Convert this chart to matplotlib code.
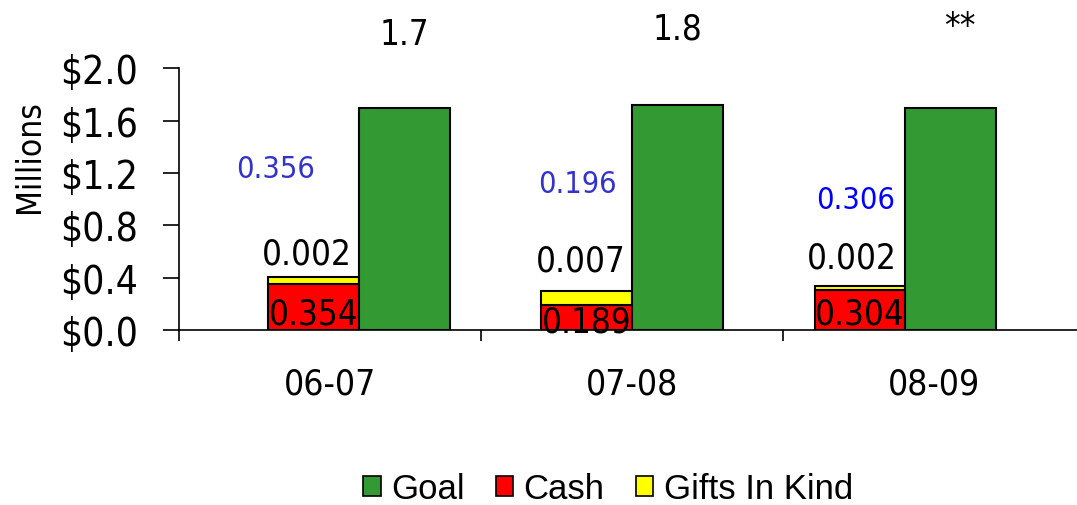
import numpy as np
import matplotlib
matplotlib.use("Agg")
import matplotlib.pyplot as plt
from matplotlib.patches import Patch
from matplotlib import font_manager as fm

# ---------------- data ----------------
categories = ["06-07", "07-08", "08-09"]
goal = [1.70, 1.72, 1.70]
cash = [0.354, 0.189, 0.304]
gifts_in_kind = [0.05, 0.11, 0.03]          # heights as drawn in the picture
goal_labels = ["1.7", "1.8", "**"]
total_labels = ["0.356", "0.196", "0.306"]
gik_labels = ["0.002", "0.007", "0.002"]
cash_labels = ["0.354", "0.189", "0.304"]
yticks = [0.0, 0.4, 0.8, 1.2, 1.6, 2.0]

# ---------------- style / layout ----------------
GREEN, RED, YELLOW = "#339933", "#FF0000", "#FFFF00"
total_colors = ["#3333CC", "#3333CC", "#0000FF"]
group_start, group_step, bar_w = 0.445, 0.905, 0.301
goal_label_y = [2.187, 2.225, 2.25]
goal_label_dx = [0.0, 0.0, 0.03]
total_label_y = [1.167, 1.055, 0.933]
total_label_dx = [-0.124, -0.03, -0.013]
gik_label_y = [0.505, 0.453, 0.48]
gik_label_dx = [-0.021, -0.02, -0.027]
cash_label_y = [0.046, -0.015, 0.046]

# Tahoma-like narrow face if a condensed DejaVu is installed
_cond = "Condensed" in fm.findfont(fm.FontProperties(family="DejaVu Sans", stretch="condensed"))
if _cond:
    TXT = dict(family="DejaVu Sans", stretch="condensed")
    fs_tick, fs_cat, fs_big, fs_blue, fs_ylab = 28, 25.5, 25, 22, 24
else:
    TXT = dict(family="DejaVu Sans")
    fs_tick, fs_cat, fs_big, fs_blue, fs_ylab = 26.5, 24, 24.5, 21.5, 23

W, H, DPI = 1077, 506, 100
fig = plt.figure(figsize=(W / DPI, H / DPI), dpi=DPI)
ax = fig.add_axes([179 / W, (H - 331) / H, 906 / W, 261.7 / H])

n = len(categories)
pos = group_start + group_step * np.arange(n)
lw = 1.5
ax.bar(pos, cash, width=bar_w, color=RED, edgecolor="black", linewidth=lw, zorder=3)
ax.bar(pos, gifts_in_kind, bottom=cash, width=bar_w, color=YELLOW,
       edgecolor="black", linewidth=lw, zorder=3)
ax.bar(pos + bar_w, goal, width=bar_w, color=GREEN, edgecolor="black",
       linewidth=lw, zorder=3)

ax.set_xlim(0, n)
ax.set_ylim(0, 2.0)
ax.set_yticks(yticks)
ax.set_yticklabels([f"${v:.1f}" for v in yticks], fontsize=fs_tick, **TXT)
ax.tick_params(axis="y", direction="out", length=11.5, width=1.2, pad=18)
ax.set_xticks(np.arange(n + 1))
ax.set_xticklabels([])
ax.tick_params(axis="x", which="major", direction="out", length=8, width=1.2)
ax.set_xticks(np.arange(n) + 0.5, minor=True)
ax.set_xticklabels(categories, minor=True, fontsize=fs_cat, **TXT)
ax.tick_params(axis="x", which="minor", length=0, pad=26)
for s in ["top", "right"]:
    ax.spines[s].set_visible(False)
ax.spines["left"].set_linewidth(1.2)
ax.spines["bottom"].set_linewidth(1.2)
ax.set_ylabel("Millions", fontsize=fs_ylab, **TXT)
ax.yaxis.set_label_coords(-0.147, 0.665)

for i in range(n):
    ax.text(pos[i] + bar_w + goal_label_dx[i], goal_label_y[i], goal_labels[i],
            ha="center", va="baseline", fontsize=fs_big, clip_on=False, **TXT)
    ax.text(pos[i] + total_label_dx[i], total_label_y[i], total_labels[i],
            ha="center", va="baseline", fontsize=fs_blue, color=total_colors[i],
            zorder=5, **TXT)
    ax.text(pos[i] + gik_label_dx[i], gik_label_y[i], gik_labels[i],
            ha="center", va="baseline", fontsize=fs_big, zorder=5, **TXT)
    ax.text(pos[i], cash_label_y[i], cash_labels[i],
            ha="center", va="baseline", fontsize=fs_big, zorder=5, clip_on=False, **TXT)

handles = [Patch(facecolor=GREEN, edgecolor="black", linewidth=1.2, label="Goal"),
           Patch(facecolor=RED, edgecolor="black", linewidth=1.2, label="Cash"),
           Patch(facecolor=YELLOW, edgecolor="black", linewidth=1.2, label="Gifts In Kind")]
fig.legend(handles=handles, loc="center", bbox_to_anchor=(608 / W, 1 - 490 / H),
           ncol=3, frameon=False, prop={"family": "Liberation Sans", "size": 25},
           handlelength=0.5, handleheight=0.5, handletextpad=0.3, columnspacing=0.9,
           borderpad=0)

fig.savefig("out.png", dpi=DPI)
